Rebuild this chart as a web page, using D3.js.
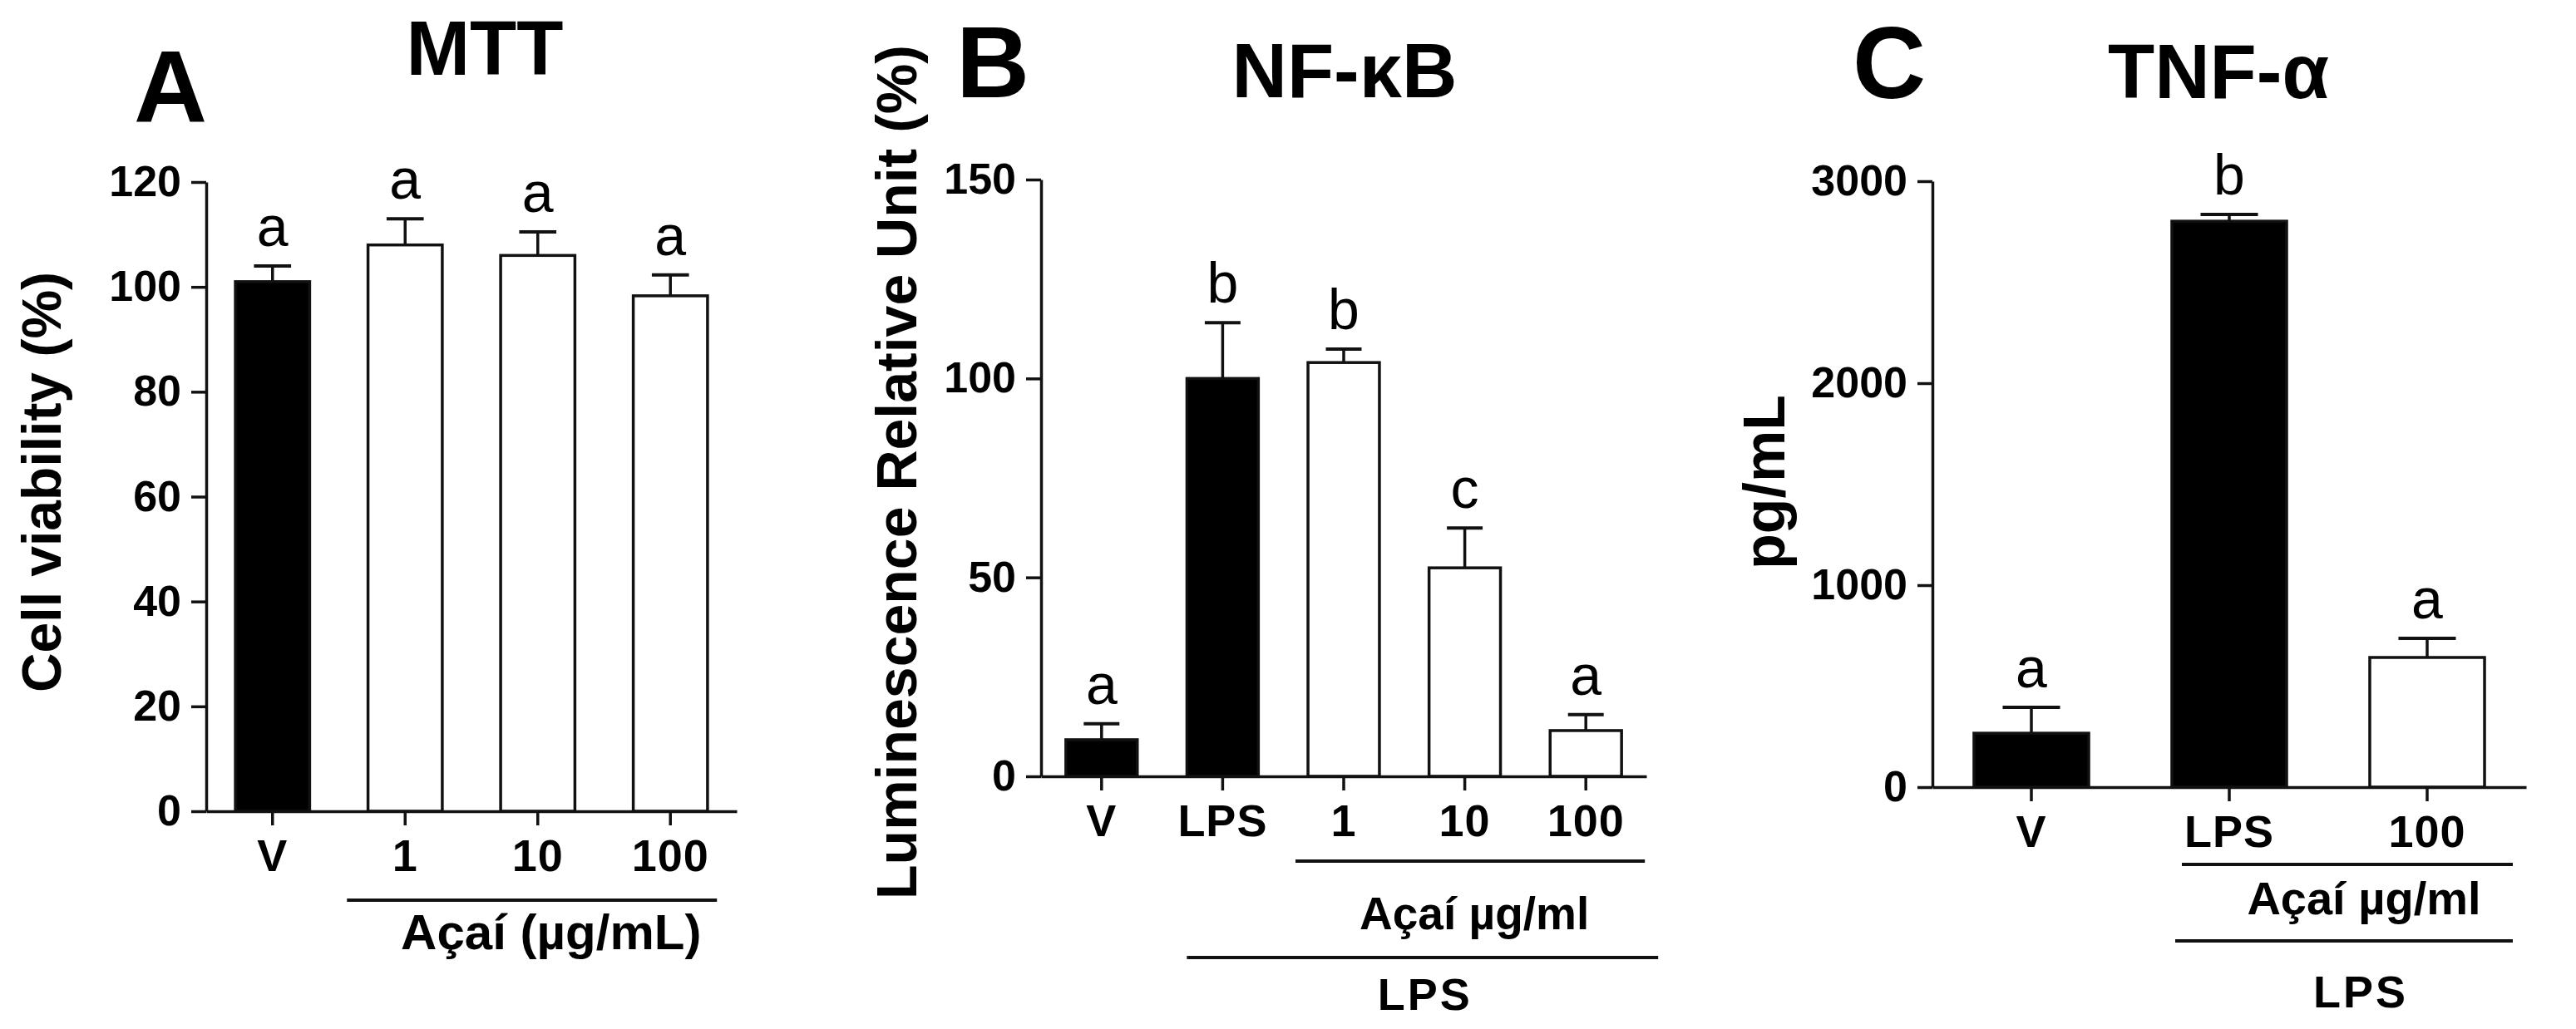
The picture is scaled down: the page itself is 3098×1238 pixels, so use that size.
<!DOCTYPE html>
<html>
<head>
<meta charset="utf-8">
<script src="https://cdn.jsdelivr.net/npm/d3@7"></script>
<style>
  body { margin: 0; background: #fff; }
  text { font-family: "Liberation Sans", Arial, sans-serif; fill: #000; }
</style>
</head>
<body>
<svg id="fig" width="3098" height="1238"></svg>
<script>
// A - MTT cell viability
const mttGroups = ["V", "1", "10", "100"];
const mttMean = [101, 108, 106, 98.3];
const mttErr = [3, 5, 4.5, 4];
const mttLetters = ["a", "a", "a", "a"];
const mttTicks = [0, 20, 40, 60, 80, 100, 120];

// B - NF-kB luminescence
const nfkbGroups = ["V", "LPS", "1", "10", "100"];
const nfkbMean = [9.2, 100, 104, 52.4, 11.5];
const nfkbErr = [4, 14, 3.4, 10, 4];
const nfkbLetters = ["a", "b", "b", "c", "a"];
const nfkbTicks = [0, 50, 100, 150];

// C - TNF-alpha
const tnfGroups = ["V", "LPS", "100"];
const tnfMean = [267, 2802, 642];
const tnfErr = [128, 33, 95];
const tnfLetters = ["a", "b", "a"];
const tnfTicks = [0, 1000, 2000, 3000];

// groups treated with acai are drawn as open bars
const acaiGroups = ["1", "10", "100"];

const svg = d3.select("#fig");

function drawPanel(p) {
  const x = d3.scaleBand()
    .domain(p.groups)
    .range([p.left, p.right])
    .paddingInner(p.pad)
    .paddingOuter(p.pad / 2);
  const y = d3.scaleLinear().domain([0, p.max]).range([p.bottom, p.top]);
  const bw = x.bandwidth();
  const cx = k => x(k) + bw / 2;

  const rows = p.groups.map((k, i) => ({ k: k, m: p.mean[i], e: p.err[i], l: p.letters[i] }));
  const g = svg.append("g");

  // error bars (upper only)
  g.selectAll(".err").data(rows).join("line")
    .attr("x1", d => cx(d.k)).attr("x2", d => cx(d.k))
    .attr("y1", d => y(d.m)).attr("y2", d => y(d.m + d.e))
    .attr("stroke", "#111").attr("stroke-width", 3.5);
  g.selectAll(".cap").data(rows).join("line")
    .attr("x1", d => cx(d.k) - bw / 4).attr("x2", d => cx(d.k) + bw / 4)
    .attr("y1", d => y(d.m + d.e)).attr("y2", d => y(d.m + d.e))
    .attr("stroke", "#111").attr("stroke-width", 4);

  g.selectAll(".bar").data(rows).join("rect")
    .attr("x", d => x(d.k))
    .attr("width", bw)
    .attr("y", d => y(d.m))
    .attr("height", d => p.bottom - y(d.m))
    .attr("fill", d => acaiGroups.includes(d.k) ? "#fff" : "#000")
    .attr("stroke", "#111").attr("stroke-width", 3.5);

  // significance letters
  g.selectAll(".sig").data(rows).join("text")
    .attr("x", d => cx(d.k))
    .attr("y", d => y(d.m + d.e) - 24)
    .attr("text-anchor", "middle")
    .attr("font-size", 68)
    .text(d => d.l);

  // axes
  const yAxis = g.append("g")
    .attr("transform", `translate(${p.left},0)`)
    .call(d3.axisLeft(y).tickValues(p.ticks).tickFormat(d3.format("d"))
      .tickSize(18).tickPadding(12).tickSizeOuter(0));
  const xAxis = g.append("g")
    .attr("transform", `translate(0,${p.bottom})`)
    .call(d3.axisBottom(x).tickSize(17).tickPadding(17).tickSizeOuter(0));

  [yAxis, xAxis].forEach(ax => {
    ax.attr("font-family", null).attr("font-size", null);
    ax.selectAll("path, line").attr("stroke", "#111").attr("stroke-width", 3.5);
    ax.selectAll("text").attr("fill", "#000").attr("font-weight", "bold");
  });
  yAxis.selectAll("text").attr("font-size", 52);
  xAxis.selectAll("text").attr("font-size", 54).attr("letter-spacing", 1);

  // y label
  g.append("text")
    .attr("transform", `translate(${p.ylabelX},${p.ylabelY}) rotate(-90)`)
    .attr("text-anchor", "middle")
    .attr("font-size", p.ylabelSize)
    .attr("font-weight", "bold")
    .text(p.ylabel);

  // title and panel tag
  g.append("text")
    .attr("x", p.titleX).attr("y", p.titleY)
    .attr("text-anchor", "middle")
    .attr("font-size", 92).attr("font-weight", "bold")
    .text(p.title);
  g.append("text")
    .attr("x", p.tagX).attr("y", p.tagY)
    .attr("font-size", 122).attr("font-weight", "bold")
    .text(p.tag);

  // group brackets under the axis
  p.brackets.forEach(b => {
    const x1 = cx(b.from) - b.padL;
    const x2 = cx(b.to) + b.padR;
    g.append("line")
      .attr("x1", x1).attr("x2", x2)
      .attr("y1", b.y).attr("y2", b.y)
      .attr("stroke", "#111").attr("stroke-width", 4);
    g.append("text")
      .attr("x", (x1 + x2) / 2 + b.dx).attr("y", b.textY)
      .attr("text-anchor", "middle")
      .attr("font-size", b.size).attr("font-weight", "bold")
      .attr("letter-spacing", b.spacing || 0)
      .text(b.text);
  });
}

drawPanel({
  groups: mttGroups, mean: mttMean, err: mttErr, letters: mttLetters, ticks: mttTicks, max: 120,
  left: 248, right: 886, bottom: 976, top: 219, pad: 0.44,
  ylabel: "Cell viability (%)", ylabelX: 73, ylabelY: 580, ylabelSize: 66,
  title: "MTT", titleX: 583, titleY: 90, tag: "A", tagX: 161, tagY: 147,
  brackets: [
    { from: "1", to: "100", padL: 70, padR: 56, y: 1083, text: "Açaí (µg/mL)", textY: 1142, dx: 23, size: 60 }
  ]
});

drawPanel({
  groups: nfkbGroups, mean: nfkbMean, err: nfkbErr, letters: nfkbLetters, ticks: nfkbTicks, max: 150,
  left: 1252, right: 1980, bottom: 934, top: 216, pad: 0.41,
  ylabel: "Luminescence Relative Unit (%)", ylabelX: 1102, ylabelY: 568, ylabelSize: 68,
  title: "NF-κB", titleX: 1617, titleY: 117, tag: "B", tagX: 1150, tagY: 117,
  brackets: [
    { from: "1", to: "100", padL: 58, padR: 71, y: 1036, text: "Açaí µg/ml", textY: 1118, dx: 5, size: 55 },
    { from: "LPS", to: "100", padL: 43, padR: 87, y: 1152, text: "LPS", textY: 1215, dx: 3, size: 54, spacing: 3 }
  ]
});

drawPanel({
  groups: tnfGroups, mean: tnfMean, err: tnfErr, letters: tnfLetters, ticks: tnfTicks, max: 3000,
  left: 2324, right: 3038, bottom: 947, top: 218, pad: 0.42,
  ylabel: "pg/mL", ylabelX: 2146, ylabelY: 580, ylabelSize: 70,
  title: "TNF-α", titleX: 2668, titleY: 118, tag: "C", tagX: 2228, tagY: 118,
  brackets: [
    { from: "LPS", to: "100", padL: 57, padR: 103, y: 1040, text: "Açaí µg/ml", textY: 1100, dx: 20, size: 56 },
    { from: "LPS", to: "100", padL: 65, padR: 103, y: 1132, text: "LPS", textY: 1212, dx: 20, size: 54, spacing: 3 }
  ]
});
</script>
</body>
</html>
